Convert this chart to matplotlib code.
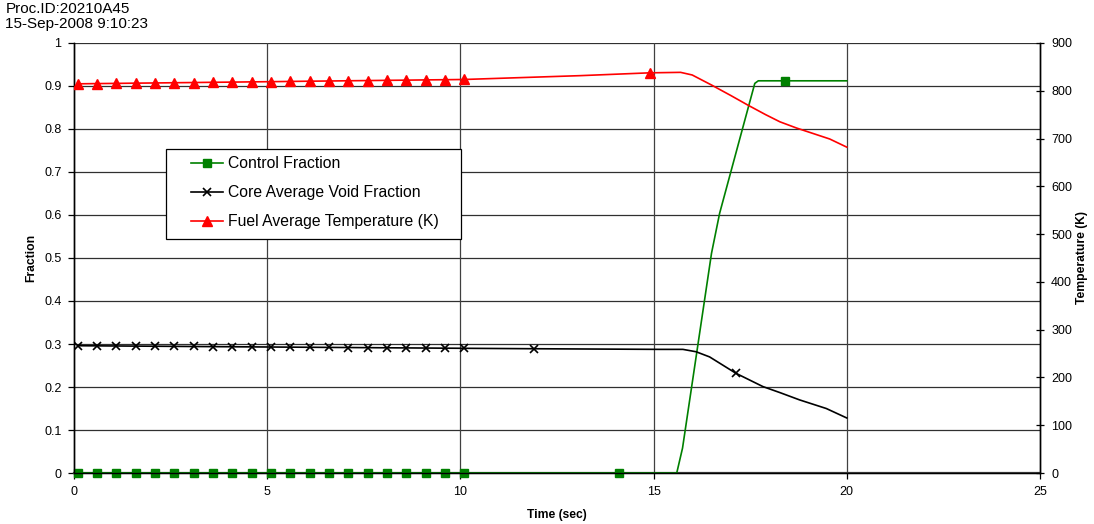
import numpy as np
import matplotlib.pyplot as plt
from matplotlib.patches import Rectangle

plt.rcParams['font.family'] = ['Liberation Sans', 'DejaVu Sans']

# Control Fraction (left axis)
t_ctrl = [0.1, 0.6, 1.1, 1.6, 2.1, 2.6, 3.1, 3.6, 4.1, 4.6, 5.1, 5.6, 6.1, 6.6, 7.1,
          7.6, 8.1, 8.6, 9.1, 9.6, 10.1, 14.1, 15.6, 15.75, 16.5, 16.71, 17.27,
          17.62, 17.71, 18.4, 20.0]
ctrl = [0, 0, 0, 0, 0, 0, 0, 0, 0, 0, 0, 0, 0, 0, 0,
        0, 0, 0, 0, 0, 0, 0, 0, 0.058, 0.511, 0.604, 0.790,
        0.906, 0.912, 0.912, 0.912]
ctrl_marks = list(range(22)) + [29]

# Core Average Void Fraction (left axis)
t_void = [0.1, 0.6, 1.1, 1.6, 2.1, 2.6, 3.1, 3.6, 4.1, 4.6, 5.1, 5.6, 6.1, 6.6, 7.1,
          7.6, 8.1, 8.6, 9.1, 9.6, 10.1, 11.9, 15.16, 15.76, 16.1, 16.45, 17.13, 17.83,
          18.27, 18.78, 19.47, 20.0]
void = [0.2960, 0.2957, 0.2954, 0.2951, 0.2948, 0.2945, 0.2942, 0.2939, 0.2936, 0.2933,
        0.2930, 0.2927, 0.2924, 0.2921, 0.2918, 0.2915, 0.2912, 0.2909, 0.2906, 0.2903,
        0.2900, 0.2890, 0.2875, 0.2875, 0.2820, 0.2700, 0.2320, 0.2010, 0.1870, 0.1700,
        0.1500, 0.1280]
void_marks = list(range(22)) + [26]

# Fuel Average Temperature (right axis, K)
t_fuel = [0.1, 0.6, 1.1, 1.6, 2.1, 2.6, 3.1, 3.6, 4.1, 4.6, 5.1, 5.6, 6.1, 6.6, 7.1,
          7.6, 8.1, 8.6, 9.1, 9.6, 10.1, 13.1, 14.9, 15.7, 16.0, 16.5, 17.0, 17.44,
          17.9, 18.27, 18.7, 19.56, 20.0]
fuel = [814.5, 815.0, 815.4, 815.9, 816.3, 816.8, 817.2, 817.7, 818.1, 818.6,
        819.0, 819.5, 820.0, 820.4, 820.9, 821.3, 821.8, 822.2, 822.7, 823.1,
        823.6, 831.6, 837.5, 838.5, 833.0, 812.0, 790.0, 770.0, 750.0, 735.0, 722.0,
        699.0, 682.0]
fuel_marks = list(range(21)) + [22]

fig = plt.figure(figsize=(10.94, 5.24), dpi=100)
ax = fig.add_axes([0.0676, 0.0973, 0.8830, 0.8207])
ax2 = ax.twinx()

grid_c = '#303030'
for y in np.arange(0.1, 1.01, 0.1):
    ax.axhline(y, color=grid_c, lw=0.9, zorder=0)
for x in [5, 10, 15, 20]:
    ax.axvline(x, color='#404040', lw=0.9, zorder=0)

l1, = ax.plot(t_ctrl, ctrl, color='#008000', lw=1.2, marker='s', ms=6,
              markevery=ctrl_marks, label='Control Fraction', zorder=3, clip_on=False)
l2, = ax.plot(t_void, void, color='black', lw=1.2, marker='x', ms=6, mew=1.2,
              markevery=void_marks, label='Core Average Void Fraction', zorder=3)
l3, = ax2.plot(t_fuel, fuel, color='#ff0000', lw=1.2, marker='^', ms=7.5,
               markevery=fuel_marks, label='Fuel Average Temperature (K)', zorder=3)

ax.set_xlim(0, 25)
ax.set_ylim(0, 1)
ax2.set_ylim(0, 900)
ax.set_xticks([0, 5, 10, 15, 20, 25])
ax.set_yticks(np.arange(0, 1.01, 0.1))
ax.set_yticklabels(['0', '0.1', '0.2', '0.3', '0.4', '0.5', '0.6', '0.7', '0.8', '0.9', '1'])
ax2.set_yticks(np.arange(0, 901, 100))

ax.tick_params(axis='both', labelsize=9, length=4, width=0.9, direction='out', pad=5)
ax2.tick_params(axis='y', labelsize=9, length=6, width=0.9, direction='inout', pad=5)

for a in (ax, ax2):
    a.spines['top'].set_visible(False)
    for s in ('left', 'right', 'bottom'):
        a.spines[s].set_linewidth(1.0)
        a.spines[s].set_color('black')
ax.spines['bottom'].set_color('#404040')
ax.spines['bottom'].set_linewidth(1.6)

ax.set_xlabel('Time (sec)', fontsize=8.7, fontweight='bold', labelpad=8)
ax.set_ylabel('Fraction', fontsize=8.7, fontweight='bold', labelpad=5)
ax2.set_ylabel('Temperature (K)', fontsize=8.7, fontweight='bold', labelpad=3)

# legend frame drawn separately so side padding can be wider than top/bottom
ax2.add_patch(Rectangle((0.0952, 0.5442), 0.3054, 0.2093, transform=ax2.transAxes,
                        facecolor='white', edgecolor='black', lw=0.9, zorder=9))
leg = ax2.legend(handles=[l1, l2, l3], loc='upper left', bbox_to_anchor=(0.1211, 0.737),
                 borderaxespad=0, borderpad=0, fontsize=11.3, frameon=False,
                 handlelength=2.05, labelspacing=0.9, handletextpad=0.3)
leg.set_zorder(10)

fig.text(0.005, 0.997, 'Proc.ID:20210A45', fontsize=11, va='top', ha='left')
fig.text(0.005, 0.968, '15-Sep-2008 9:10:23', fontsize=11, va='top', ha='left')

fig.savefig('out.png', dpi=100)
